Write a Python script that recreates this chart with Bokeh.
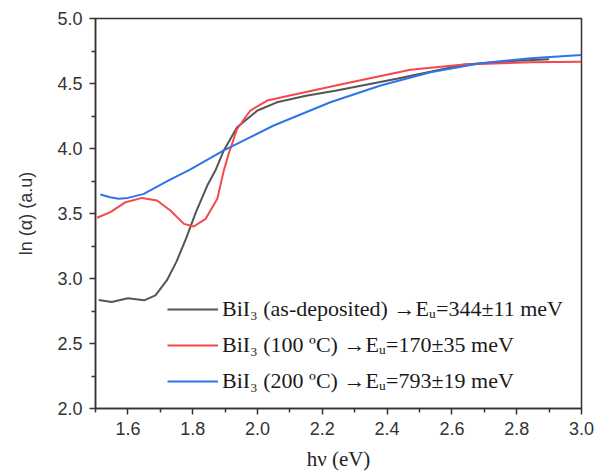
from bokeh.plotting import figure
from bokeh.models import FixedTicker, Legend, LegendItem, PrintfTickFormatter
from bokeh.embed import file_html
from bokeh.resources import INLINE

# ---- data ----
asdep_x = [1.51, 1.55, 1.60, 1.65, 1.685, 1.72, 1.75, 1.78, 1.81, 1.845, 1.87, 1.896, 1.937,
           2.0, 2.06, 2.15, 2.24, 2.43, 2.64, 2.80, 2.90]
asdep_y = [2.835, 2.82, 2.848, 2.832, 2.87, 2.985, 3.13, 3.31, 3.51, 3.715, 3.83, 3.985, 4.164,
           4.292, 4.355, 4.405, 4.445, 4.536, 4.646, 4.675, 4.686]

t100_x = [1.505, 1.546, 1.593, 1.644, 1.69, 1.731, 1.773, 1.803, 1.84, 1.876, 1.896, 1.911,
          1.937, 1.978, 2.03, 2.10, 2.256, 2.472, 2.637, 2.843, 3.0]
t100_y = [3.467, 3.51, 3.587, 3.62, 3.60, 3.523, 3.42, 3.40, 3.459, 3.613, 3.83, 3.96,
          4.15, 4.292, 4.369, 4.408, 4.492, 4.605, 4.646, 4.664, 4.667]

t200_x = [1.515, 1.545, 1.572, 1.60, 1.649, 1.726, 1.793, 1.896, 2.05, 2.225, 2.38, 2.534,
          2.688, 2.843, 3.0]
t200_y = [3.646, 3.625, 3.613, 3.62, 3.651, 3.754, 3.84, 3.985, 4.177, 4.356, 4.485, 4.587,
          4.656, 4.695, 4.72]

labels = ["BiI\u2083 (as-deposited) \u2192E\u1d64=344\u00b111 meV",
          "BiI\u2083 (100 \u00baC) \u2192E\u1d64=170\u00b135 meV",
          "BiI\u2083 (200 \u00baC) \u2192E\u1d64=793\u00b119 meV"]
colors = ["#555555", "#f4474f", "#2f74e8"]

x_major = [1.6, 1.8, 2.0, 2.2, 2.4, 2.6, 2.8, 3.0]
x_minor = [1.5, 1.7, 1.9, 2.1, 2.3, 2.5, 2.7, 2.9]
y_major = [2.0, 2.5, 3.0, 3.5, 4.0, 4.5, 5.0]
y_minor = [2.25, 2.75, 3.25, 3.75, 4.25, 4.75]

p = figure(width=600, height=473, output_backend="svg", toolbar_location=None,
           x_range=(1.5, 3.0), y_range=(2.0, 5.0),
           min_border_left=95, min_border_right=19, min_border_top=18, min_border_bottom=64)

r1 = p.line(asdep_x, asdep_y, line_color=colors[0], line_width=2)
r2 = p.line(t100_x, t100_y, line_color=colors[1], line_width=2)
r3 = p.line(t200_x, t200_y, line_color=colors[2], line_width=2)

p.xgrid.visible = False
p.ygrid.visible = False
p.outline_line_color = "#333333"
p.outline_line_width = 1.5

p.xaxis.ticker = FixedTicker(ticks=x_major, minor_ticks=x_minor)
p.yaxis.ticker = FixedTicker(ticks=y_major, minor_ticks=y_minor)
for ax in (p.xaxis, p.yaxis):
    ax.formatter = PrintfTickFormatter(format="%.1f")
    ax.axis_line_color = "#333333"
    ax.axis_line_width = 1.5
    ax.major_tick_line_color = "#333333"
    ax.major_tick_line_width = 1.5
    ax.minor_tick_line_color = "#333333"
    ax.minor_tick_line_width = 1.5
    ax.major_tick_out = 6
    ax.major_tick_in = 0
    ax.minor_tick_out = 4
    ax.minor_tick_in = 0
    ax.major_label_text_font = "Liberation Sans"
    ax.major_label_text_font_size = "18px"
    ax.major_label_text_color = "#333333"

p.xaxis.axis_label = "h\u03bd (eV)"
p.xaxis.axis_label_text_font = "Liberation Serif"
p.xaxis.axis_label_text_font_style = "normal"
p.xaxis.axis_label_text_font_size = "21px"
p.xaxis.axis_label_text_color = "#222222"
p.xaxis.axis_label_standoff = 9
p.xaxis.major_label_standoff = 7

p.yaxis.axis_label = "ln (\u03b1) (a.u)"
p.yaxis.axis_label_text_font = "Liberation Sans"
p.yaxis.axis_label_text_font_style = "normal"
p.yaxis.axis_label_text_font_size = "18px"
p.yaxis.axis_label_text_color = "#333333"
p.yaxis.axis_label_standoff = 18
p.yaxis.major_label_standoff = 7

legend = Legend(items=[LegendItem(label=labels[0], renderers=[r1]),
                       LegendItem(label=labels[1], renderers=[r2]),
                       LegendItem(label=labels[2], renderers=[r3])],
                location=(72, 9), border_line_alpha=0, background_fill_alpha=0,
                padding=0, margin=0, spacing=0, glyph_width=51, glyph_height=36,
                label_height=36, label_standoff=4,
                label_text_font="Liberation Serif", label_text_font_size="22px",
                label_text_color="#1a1a1a")
p.add_layout(legend, "center")

open("out.html", "w").write(file_html(p, INLINE))
